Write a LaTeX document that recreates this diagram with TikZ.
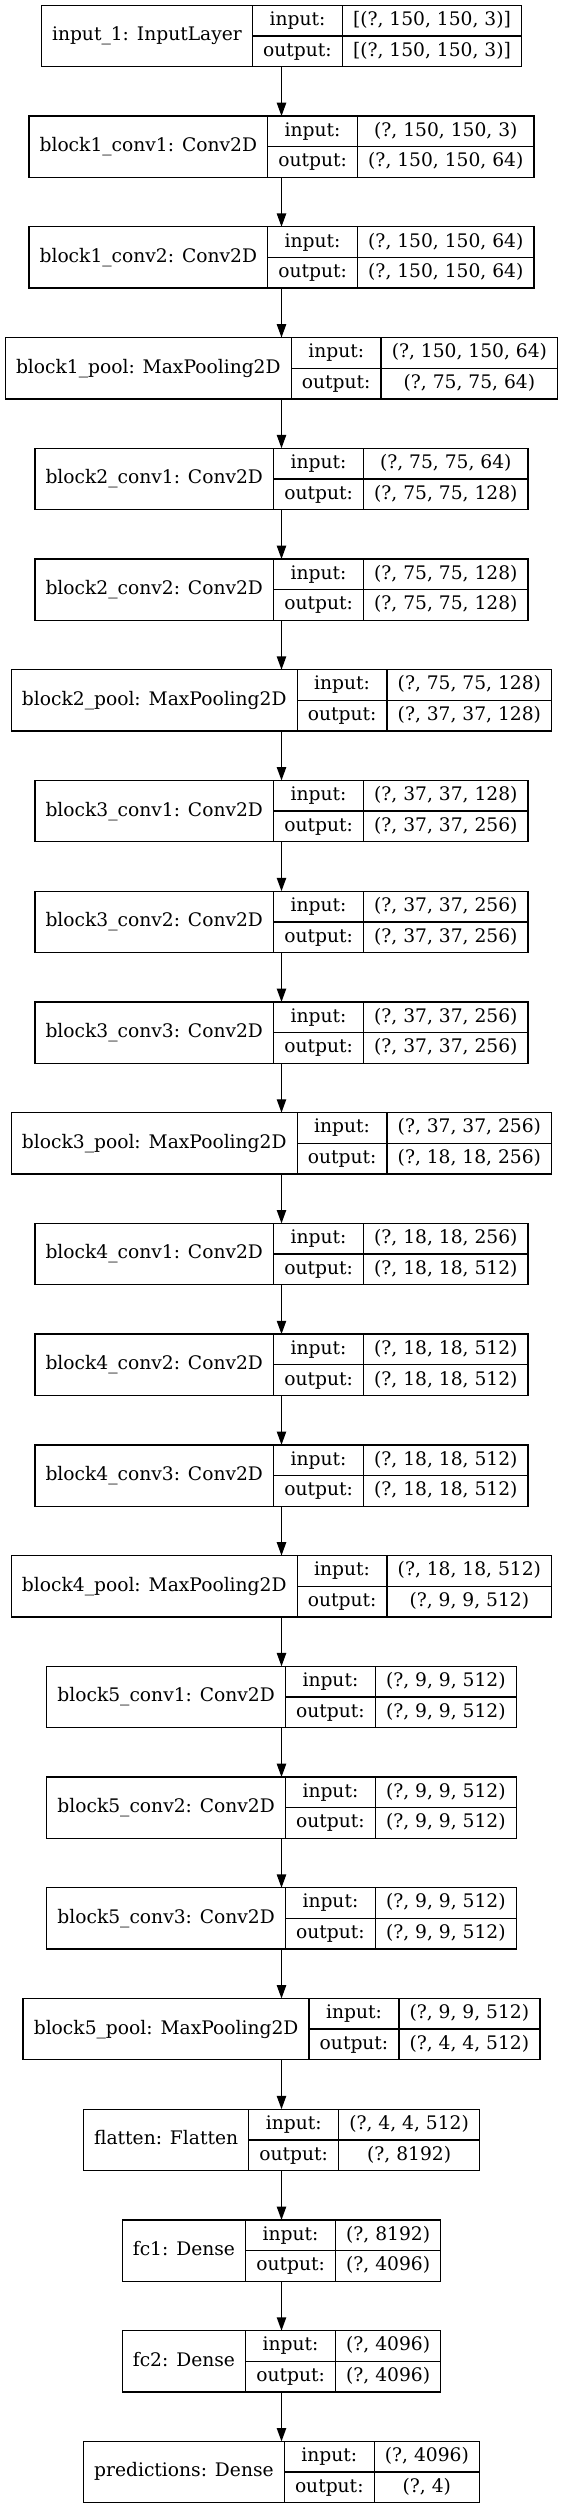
\documentclass[tikz,border=0pt]{standalone}
\usepackage{fontspec}
\setmainfont{DejaVu Serif}
\usetikzlibrary{arrows.meta}
\newlength\LWa \newlength\LWb \newlength\LWc \newlength\LWt
\newcommand\lblfont{\fontsize{18.67pt}{22.4pt}\selectfont}
\def\padx{21.33pt}
\def\cx{281.5}
\def\tz{5.33}
\def\pitch{110.73}
\def\bh{61.33}
\def\bl{4.9}
\newcommand\measurecells[3]{%
  \settowidth\LWa{#1}\addtolength\LWa{\padx}\global\LWa=\LWa
  \settowidth\LWb{output:}\addtolength\LWb{\padx}\global\LWb=\LWb
  \settowidth\LWc{#2}\settowidth\LWt{#3}%
  \ifdim\LWt>\LWc\LWc=\LWt\fi\addtolength\LWc{\padx}\global\LWc=\LWc
}
\newcommand\layer[5]{%
  \pgfmathsetmacro\yt{-(\tz+#2*\pitch)}%
  \pgfmathsetmacro\yb{\yt-\bh}%
  \pgfmathsetmacro\yc{\yt-\bh/2}%
  \pgfmathsetmacro\yu{\yt-\bh/4}%
  \pgfmathsetmacro\yd{\yt-3*\bh/4}%
  \node[meas] (#1-m) at (\cx,\yc) {\measurecells{#3}{#4}{#5}};
  \pgfmathsetmacro\W{\LWa+\LWb+\LWc}%
  \pgfmathsetmacro\xl{\cx-\W/2}%
  \pgfmathsetmacro\xa{\xl+\LWa}%
  \pgfmathsetmacro\xb{\xa+\LWb}%
  \pgfmathsetmacro\xr{\xl+\W}%
  \node[box, minimum width=\W pt] (#1) at (\cx,\yc) {};
  \draw[rule] (\xa,\yt) -- (\xa,\yb) (\xb,\yt) -- (\xb,\yb) (\xa,\yc) -- (\xr,\yc);
  \node[lbl] (#1-name) at ({(\xl+\xa)/2},{\yc-\bl}) {#3};
  \node[lbl] (#1-inl) at ({(\xa+\xb)/2},{\yu-\bl}) {input:};
  \node[lbl] (#1-outl) at ({(\xa+\xb)/2},{\yd-\bl}) {output:};
  \node[lbl] (#1-in) at ({(\xb+\xr)/2},{\yu-\bl}) {#4};
  \node[lbl] (#1-out) at ({(\xb+\xr)/2},{\yd-\bl}) {#5};
}
\tikzset{
  meas/.style={inner sep=0pt, outer sep=0pt, font=\lblfont},
  box/.style={draw=black, line width=1.33pt, minimum height=61.33pt, inner sep=0pt, outer sep=0pt},
  rule/.style={draw=black, line width=1.33pt},
  lbl/.style={anchor=base, inner sep=0pt, font=\lblfont, text=black},
  arr/.style={draw=black, line width=1.33pt, -{Triangle[length=13.33pt,width=9.33pt]}}
}
\begin{document}
\begin{tikzpicture}[x=1pt,y=1pt]
\useasboundingbox[fill=white] (0,0) rectangle (563,-2508);
\layer{L0}{0}{input\_1: InputLayer}{[(?, 150, 150, 3)]}{[(?, 150, 150, 3)]}
\layer{L1}{1}{block1\_conv1: Conv2D}{(?, 150, 150, 3)}{(?, 150, 150, 64)}
\layer{L2}{2}{block1\_conv2: Conv2D}{(?, 150, 150, 64)}{(?, 150, 150, 64)}
\layer{L3}{3}{block1\_pool: MaxPooling2D}{(?, 150, 150, 64)}{(?, 75, 75, 64)}
\layer{L4}{4}{block2\_conv1: Conv2D}{(?, 75, 75, 64)}{(?, 75, 75, 128)}
\layer{L5}{5}{block2\_conv2: Conv2D}{(?, 75, 75, 128)}{(?, 75, 75, 128)}
\layer{L6}{6}{block2\_pool: MaxPooling2D}{(?, 75, 75, 128)}{(?, 37, 37, 128)}
\layer{L7}{7}{block3\_conv1: Conv2D}{(?, 37, 37, 128)}{(?, 37, 37, 256)}
\layer{L8}{8}{block3\_conv2: Conv2D}{(?, 37, 37, 256)}{(?, 37, 37, 256)}
\layer{L9}{9}{block3\_conv3: Conv2D}{(?, 37, 37, 256)}{(?, 37, 37, 256)}
\layer{L10}{10}{block3\_pool: MaxPooling2D}{(?, 37, 37, 256)}{(?, 18, 18, 256)}
\layer{L11}{11}{block4\_conv1: Conv2D}{(?, 18, 18, 256)}{(?, 18, 18, 512)}
\layer{L12}{12}{block4\_conv2: Conv2D}{(?, 18, 18, 512)}{(?, 18, 18, 512)}
\layer{L13}{13}{block4\_conv3: Conv2D}{(?, 18, 18, 512)}{(?, 18, 18, 512)}
\layer{L14}{14}{block4\_pool: MaxPooling2D}{(?, 18, 18, 512)}{(?, 9, 9, 512)}
\layer{L15}{15}{block5\_conv1: Conv2D}{(?, 9, 9, 512)}{(?, 9, 9, 512)}
\layer{L16}{16}{block5\_conv2: Conv2D}{(?, 9, 9, 512)}{(?, 9, 9, 512)}
\layer{L17}{17}{block5\_conv3: Conv2D}{(?, 9, 9, 512)}{(?, 9, 9, 512)}
\layer{L18}{18}{block5\_pool: MaxPooling2D}{(?, 9, 9, 512)}{(?, 4, 4, 512)}
\layer{L19}{19}{flatten: Flatten}{(?, 4, 4, 512)}{(?, 8192)}
\layer{L20}{20}{fc1: Dense}{(?, 8192)}{(?, 4096)}
\layer{L21}{21}{fc2: Dense}{(?, 4096)}{(?, 4096)}
\layer{L22}{22}{predictions: Dense}{(?, 4096)}{(?, 4)}
\foreach \a/\b in {L0/L1,L1/L2,L2/L3,L3/L4,L4/L5,L5/L6,L6/L7,L7/L8,L8/L9,L9/L10,L10/L11,L11/L12,L12/L13,L13/L14,L14/L15,L15/L16,L16/L17,L17/L18,L18/L19,L19/L20,L20/L21,L21/L22}
  \draw[arr] (\a) -- (\b);
\end{tikzpicture}
\end{document}
